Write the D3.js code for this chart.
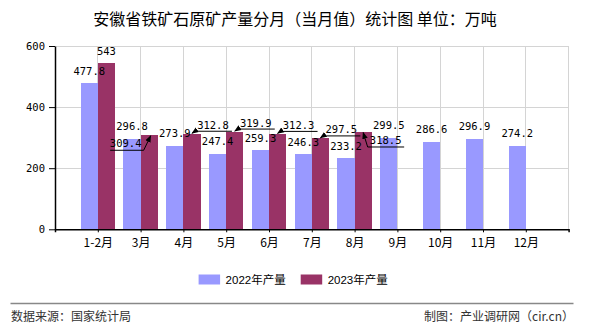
<!DOCTYPE html>
<html><head><meta charset="utf-8">
<script src="https://cdn.jsdelivr.net/npm/d3@7"></script>
<style>
html,body{margin:0;padding:0;background:#fff;}
svg{display:block;}
</style></head>
<body>
<svg id="chart" width="590" height="330"></svg>
<script>
const categories = ["1-2月","3月","4月","5月","6月","7月","8月","9月","10月","11月","12月"];
const values2022 = [477.8, 296.8, 273.9, 247.4, 259.3, 246.3, 233.2, 299.5, 286.6, 296.9, 274.2];
const values2023 = [543, 309.4, 312.8, 319.9, 312.3, 297.5, 318.5];
const labelPlacement2023 = ["above","belowLeft","right","right","right","right","belowRight"];
const yTicks = [0, 200, 400, 600];
const seriesNames = ["2022年产量","2023年产量"];
const colors = ["#9999FF","#993366"];
const title = "安徽省铁矿石原矿产量分月（当月值）统计图 单位：万吨";
const sourceText = "数据来源：国家统计局";
const creditText = "制图：产业调研网（cir.cn）";

(function(){
const svg = d3.select("#chart");
const mLeft = 55, mRight = 568.6, mTop = 46, mBottom = 229.3;
const monoFont = "'DejaVu Sans Mono', monospace";
const cjkFont = "'Noto Sans CJK SC', sans-serif";

const x = d3.scalePoint().domain(categories).range([mLeft, mRight]).padding(1);
const step = x.step();
const barW = step * 0.4;
const y = d3.scaleLinear().domain([0, 600]).range([mBottom, mTop]);

// title
svg.append("text").attr("x", 295).attr("y", 25).attr("text-anchor","middle")
  .attr("font-family", cjkFont).attr("font-size", 16).attr("fill","#000").text(title);

// grid
const grid = svg.append("g").attr("stroke","#d4d4d4").attr("stroke-width",1).attr("shape-rendering","crispEdges");
yTicks.filter(v => v > 0).forEach(v => {
  grid.append("line").attr("x1", mLeft).attr("x2", mRight).attr("y1", y(v)).attr("y2", y(v));
});
categories.forEach(c => {
  grid.append("line").attr("x1", x(c)).attr("x2", x(c)).attr("y1", mTop).attr("y2", mBottom);
});
grid.append("line").attr("x1", mRight).attr("x2", mRight).attr("y1", mTop).attr("y2", mBottom);

// bars
const bars = svg.append("g").attr("shape-rendering","crispEdges");
bars.selectAll("rect.s22").data(values2022).join("rect").attr("class","s22")
  .attr("x", (d,i) => x(categories[i]) - barW).attr("width", barW)
  .attr("y", d => y(d)).attr("height", d => y(0) - y(d)).attr("fill", colors[0]);
bars.selectAll("rect.s23").data(values2023).join("rect").attr("class","s23")
  .attr("x", (d,i) => x(categories[i])).attr("width", barW)
  .attr("y", d => y(d)).attr("height", d => y(0) - y(d)).attr("fill", colors[1]);

// axes
const xAxis = d3.axisBottom(x).tickSize(3).tickSizeOuter(3);
const gx = svg.append("g").attr("transform", `translate(0,${mBottom})`).call(xAxis);
gx.select(".domain").attr("stroke","#000").attr("stroke-width",1.5);
gx.selectAll(".tick line").attr("stroke","#000");
gx.selectAll(".tick text").attr("y", 18).attr("dy", 0)
  .attr("font-family", cjkFont).attr("font-size", 12).attr("fill","#000");

const yAxis = d3.axisLeft(y).tickValues(yTicks).tickSize(6).tickSizeOuter(0).tickPadding(4);
const gy = svg.append("g").attr("transform", `translate(${mLeft},0)`).call(yAxis);
gy.select(".domain").attr("stroke","#000").attr("stroke-width",1.5);
gy.selectAll(".tick line").attr("stroke","#000");
gy.selectAll(".tick text").attr("font-family", monoFont).attr("font-size", 10.5).attr("fill","#000");

// arrow marker
const defs = svg.append("defs");
defs.append("marker").attr("id","arrow").attr("viewBox","0 0 10 10").attr("refX",9).attr("refY",5)
  .attr("markerWidth",7).attr("markerHeight",7).attr("orient","auto-start-reverse")
  .attr("markerUnits","userSpaceOnUse")
  .append("path").attr("d","M0,1 L10,5 L0,9 Z").attr("fill","#000");

// labels
const labels = svg.append("g").attr("font-family", monoFont).attr("font-size", 10.5).attr("fill","#000");
values2022.forEach((v,i) => {
  labels.append("text").attr("x", x(categories[i]) - barW/2).attr("y", y(v) - 8.5)
    .attr("text-anchor","middle").text(v);
});
values2023.forEach((v,i) => {
  const cx = x(categories[i]) + barW/2, ty = y(v);
  const p = labelPlacement2023[i];
  if (p === "above") {
    labels.append("text").attr("x", cx).attr("y", ty - 8.5).attr("text-anchor","middle").text(v);
  } else if (p === "right") {
    labels.append("text").attr("x", cx + 21).attr("y", ty - 5).attr("text-anchor","middle").text(v);
    labels.append("path").attr("d", `M${cx+40},${ty-2.5}H${cx+3}L${cx},${ty-0.5}`)
      .attr("fill","none").attr("stroke","#000").attr("stroke-width",1).attr("marker-end","url(#arrow)");
  } else if (p === "belowLeft") {
    labels.append("text").attr("x", cx - 23.5).attr("y", ty + 12.5).attr("text-anchor","middle").text(v);
    labels.append("path").attr("d", `M${cx-39},${ty+15.5}H${cx-5.5}L${cx+1.5},${ty+1}`)
      .attr("fill","none").attr("stroke","#000").attr("stroke-width",1).attr("marker-end","url(#arrow)");
  } else if (p === "belowRight") {
    labels.append("text").attr("x", cx + 22.5).attr("y", ty + 12).attr("text-anchor","middle").text(v);
    labels.append("path").attr("d", `M${cx+41},${ty+15}H${cx+4.5}L${cx},${ty+0.5}`)
      .attr("fill","none").attr("stroke","#000").attr("stroke-width",1).attr("marker-end","url(#arrow)");
  }
});

// legend
const legendX = [198.6, 300.7];
const lg = svg.append("g");
seriesNames.forEach((n,i) => {
  lg.append("rect").attr("x", legendX[i]).attr("y", 274.5).attr("width", 21.5).attr("height", 10).attr("fill", colors[i]);
  lg.append("text").attr("x", legendX[i] + 27).attr("y", 284).attr("font-family", "'Liberation Sans', " + cjkFont)
    .attr("font-size", 11.5).attr("fill","#000").text(n);
});

// footer
svg.append("line").attr("x1", 10.5).attr("x2", 573.5).attr("y1", 303.5).attr("y2", 303.5)
  .attr("stroke","#888").attr("stroke-width",1.5);
svg.append("text").attr("x", 11).attr("y", 321).attr("font-family", cjkFont).attr("font-size", 12)
  .attr("fill","#333").text(sourceText);
svg.append("text").attr("x", 574).attr("y", 321).attr("text-anchor","end").attr("font-family", cjkFont)
  .attr("font-size", 12).attr("fill","#333").text(creditText);
})();
</script>
</body></html>
